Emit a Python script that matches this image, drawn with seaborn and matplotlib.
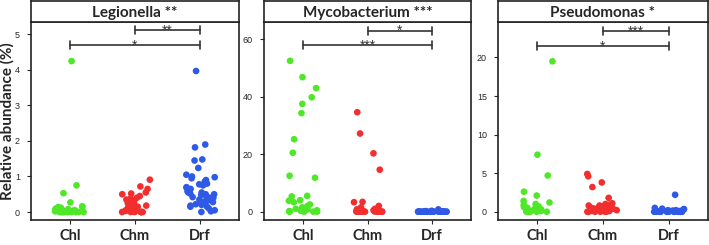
import numpy as np
import pandas as pd
import matplotlib
matplotlib.use("Agg")
from matplotlib import pyplot as plt
from matplotlib.transforms import offset_copy
import seaborn as sns

sns.set_style("white")
plt.rcParams['font.family'] = ['Lato', 'DejaVu Sans']

groups = ["Chl", "Chm", "Drf"]
colors = ["#4fe829", "#f22e2e", "#2f5ae8"]

# Legionella
leg_chl = [4.25, 0.75, 0.53, 0.27, 0.16, 0.15, 0.14, 0.12, 0.1, 0.08, 0.07, 0.05, 0.05,
           0.04, 0.03, 0.03, 0.02, 0.02, 0.01, 0.01, 0, 0, 0, 0, 0, 0, 0, 0, 0, 0]
leg_chm = [0.91, 0.72, 0.65, 0.55, 0.52, 0.5, 0.45, 0.4, 0.38, 0.35, 0.3, 0.28, 0.25, 0.25,
           0.2, 0.18, 0.15, 0.12, 0.1, 0.08, 0.05, 0.03, 0.02, 0, 0, 0, 0, 0, 0, 0]
leg_drf = [3.97, 1.9, 1.82, 1.48, 1.45, 1.24, 1.05, 1.0, 0.98, 0.95, 0.9, 0.85, 0.8, 0.78,
           0.75, 0.7, 0.68, 0.65, 0.6, 0.58, 0.55, 0.55, 0.52, 0.5, 0.5, 0.48, 0.45, 0.42,
           0.4, 0.4, 0.38, 0.35, 0.35, 0.32, 0.3, 0.28, 0.25, 0.22, 0.2, 0.18, 0.15, 0.15,
           0.1, 0.05, 0.02, 0.0]

# Mycobacterium
myc_chl = [52.5, 46.8, 43, 39.8, 37.5, 34.3, 25.2, 20.5, 12.5, 11.8, 5.5, 5.3, 4, 3.8, 3.3,
           2.5, 2, 1.5, 1, 0.8, 0.5, 0.3, 0.2, 0.1, 0, 0, 0, 0]
myc_chm = [34.6, 27.2, 20.3, 14.6, 3.4, 3.3, 2, 1.5, 1, 0.8, 0.5, 0.4, 0.3, 0.2, 0.1, 0.1,
           0, 0, 0, 0, 0, 0, 0, 0, 0, 0, 0, 0]
myc_drf = [0.8, 0.3, 0.2, 0.1, 0.1, 0.05, 0, 0, 0, 0, 0, 0, 0, 0, 0, 0, 0, 0, 0, 0,
           0, 0, 0, 0, 0, 0, 0, 0, 0, 0]

# Pseudomonas
pse_chl = [19.5, 7.4, 4.7, 2.6, 2.1, 1.4, 1.2, 1.0, 0.9, 0.8, 0.7, 0.6, 0.5, 0.5, 0.4, 0.3,
           0.3, 0.2, 0.1, 0.1, 0, 0, 0, 0, 0, 0]
pse_chm = [4.9, 4.6, 3.8, 3.2, 1.8, 1.1, 1.0, 0.9, 0.8, 0.8, 0.7, 0.6, 0.5, 0.5, 0.4, 0.4,
           0.3, 0.3, 0.2, 0.2, 0.1, 0.1, 0, 0, 0, 0, 0, 0]
pse_drf = [2.2, 0.5, 0.4, 0.35, 0.3, 0.2, 0.2, 0.15, 0.1, 0.1, 0.05, 0, 0, 0, 0, 0, 0, 0,
           0, 0, 0, 0, 0, 0, 0]

titles = ["Legionella **", "Mycobacterium ***", "Pseudomonas *"]
panels = [[leg_chl, leg_chm, leg_drf], [myc_chl, myc_chm, myc_drf], [pse_chl, pse_chm, pse_drf]]
yticks = [[0, 1, 2, 3, 4, 5], [0, 20, 40, 60], [0, 5, 10, 15, 20]]
ylims = [(-0.225, 5.35), (-2.9, 66), (-1.07, 24.6)]
# (left group, right group, y, label)
brackets = [[(1, 2, 5.13, "**"), (0, 2, 4.70, "*")],
            [(1, 2, 63.0, "*"), (0, 2, 58.0, "***")],
            [(1, 2, 23.45, "***"), (0, 2, 21.5, "*")]]

W, H = 709, 245
boxes = [(31, 239), (264, 471), (498, 708)]
top, bot, strip_top = 22, 220, 1

fig = plt.figure(figsize=(W / 100, H / 100), dpi=100)
np.random.seed(3)

for i in range(3):
    x0, x1 = boxes[i]
    ax = fig.add_axes([x0 / W, 1 - bot / H, (x1 - x0) / W, (bot - top) / H])
    df = pd.DataFrame({"group": np.repeat(groups, [len(v) for v in panels[i]]),
                       "value": np.concatenate(panels[i])})
    sns.stripplot(data=df, x="group", y="value", hue="group", order=groups,
                  palette=colors, jitter=0.24, size=4.8, linewidth=0,
                  legend=False, ax=ax, zorder=3)
    ax.set_xlim(-0.6, 2.6)
    ax.set_ylim(*ylims[i])
    ax.set_yticks(yticks[i])
    ax.set_xlabel("")
    ax.set_ylabel("")
    ax.tick_params(axis="y", left=True, length=3, width=0.8, labelsize=6.5, pad=5,
                   labelfontfamily="Liberation Sans")
    ax.tick_params(axis="x", bottom=True, length=3, width=0.8, labelsize=10.5, pad=3.5)
    for lab in ax.get_xticklabels():
        lab.set_fontweight("bold")
    for s in ax.spines.values():
        s.set_color("#222222")
        s.set_linewidth(1.2)
    yr = ylims[i][1] - ylims[i][0]
    star_tr = offset_copy(ax.transData, fig=fig, y=-4.5, units="dots")
    for g0, g1, y, lab in brackets[i]:
        ax.plot([g0, g1], [y, y], color="#333333", lw=1.2)
        for g in (g0, g1):
            ax.plot([g, g], [y - yr * 0.02, y + yr * 0.02], color="#333333", lw=1.2)
        ax.text((g0 + g1) / 2, y, lab, ha="center", va="baseline", transform=star_tr,
                fontsize=10, color="#333333", family="Liberation Sans")
    if i == 0:
        ax.set_ylabel("Relative abundance (%)", fontsize=11, fontweight="bold")
        ax.yaxis.set_label_coords(-0.078, 0.5)

    sax = fig.add_axes([x0 / W, 1 - top / H, (x1 - x0) / W, (top - strip_top) / H])
    sax.set_xticks([])
    sax.set_yticks([])
    for s in sax.spines.values():
        s.set_color("#222222")
        s.set_linewidth(1.2)
    sax.text(0.5, 0.45, titles[i], ha="center", va="center", fontsize=11,
             fontweight="bold", transform=sax.transAxes)

fig.savefig("out.png", dpi=100)
